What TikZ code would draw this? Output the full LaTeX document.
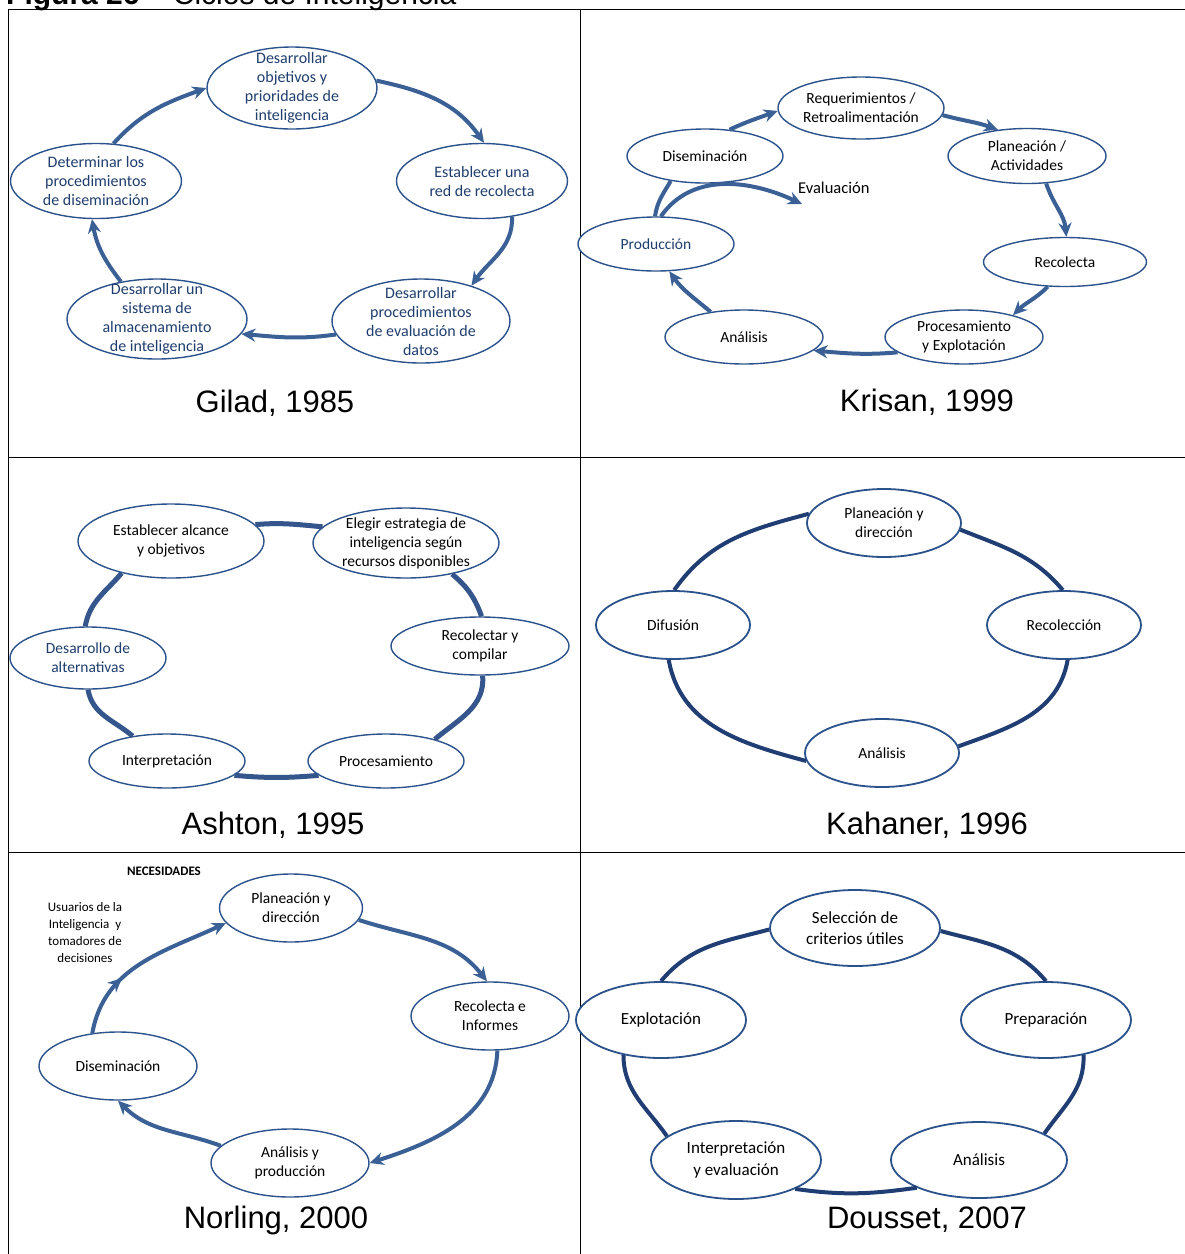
\documentclass[tikz,border=0pt]{standalone}
\usepackage{fontspec}
\setmainfont{Carlito}
\newfontfamily\arialfont{Liberation Sans}
\usetikzlibrary{
  arrows.meta,
  decorations.markings,
  shapes.geometric
}
\definecolor{cycleblue}{RGB}{44,82,140}
\definecolor{arrowblue}{RGB}{58,96,150}
\definecolor{ringblue}{RGB}{52,86,140}
\definecolor{linkblue}{RGB}{32,62,116}
\definecolor{textnavy}{RGB}{31,62,110}

\begin{document}
\begin{tikzpicture}[x=1pt,y=1pt,
  ell/.style={ellipse,draw=cycleblue,line width=1.4pt,fill=white,inner sep=0pt},
  txt/.style={align=center,inner sep=0pt,font=\fontsize{15.5}{19}\selectfont},
  gil/.style={txt,text=textnavy,font=\fontsize{16}{19}\selectfont},
  big/.style={align=center,inner sep=0pt,font=\fontsize{17}{21.5}\selectfont},
  note/.style={align=center,inner sep=0pt,font=\fontsize{13}{17}\selectfont},
  caption/.style={anchor=base,inner sep=0pt,font=\arialfont\fontsize{31}{36}\selectfont},
  flow/.style={-{Stealth[length=14pt,width=13pt]},line width=4pt,arrowblue},
  midflow/.style={flow,postaction={decorate},
    decoration={markings,mark=at position 0.35 with {\arrow{Stealth[length=14pt,width=13pt]}}}},
  link/.style={line width=4pt,arrowblue},
  ringA/.style={line width=5pt,ringblue},
  ring/.style={line width=4pt,linkblue},
  frame/.style={line width=1.6pt,black},
]
\useasboundingbox (0,0) rectangle (1185,-1254);

% ---- Table frame ----
\draw[frame] (8.5,-9.5) rectangle (1200,-1270);
\draw[frame] (580.5,-9.5) -- (580.5,-1270);
\draw[frame] (8.5,-457.5) -- (1200,-457.5);
\draw[frame] (8.5,-852.5) -- (1200,-852.5);
\node[anchor=base west,inner sep=0pt,font=\arialfont\fontsize{30}{36}\selectfont]
  (title) at (6,-4.5) {\textbf{Figura 26} – Ciclos de Inteligencia};

% ---- Gilad, 1985 ----
\node[ell,minimum width=170,minimum height=82,
  label={[gil]center:{Desarrollar\\objetivos y\\prioridades de\\inteligencia}}] (g1) at (292,-88) {};
\node[ell,minimum width=171,minimum height=75,
  label={[gil]center:{Establecer una\\red de recolecta}}] (g2) at (482,-181) {};
\node[ell,minimum width=178,minimum height=84,
  label={[gil]center:{Desarrollar\\procedimientos\\de evaluación de\\datos}}] (g3) at (421,-321) {};
\node[ell,minimum width=180,minimum height=80,
  label={[gil]center:{Desarrollar un\\sistema de\\almacenamiento\\de inteligencia}}] (g4) at (157,-319) {};
\node[ell,minimum width=171,minimum height=75,
  label={[gil]center:{Determinar los\\procedimientos\\de diseminación}}] (g5) at (96,-181) {};
\draw[flow] (g1.5) to[out=-12,in=125] (g2.87);
\draw[flow] (g2.-50) to[out=-88,in=55] (g3.35);
\draw[flow] (g3.-171) to[out=188,in=-5] (g4.-10);
\draw[flow] (g4.134) to[out=128,in=-80] (g5.-96);
\draw[flow] (g5.65) to[out=48,in=200] (g1.180);

% ---- Krisan, 1999 ----
\node[ell,minimum width=166,minimum height=62,
  label={[txt]center:{Requerimientos /\\Retroalimentación}}] (k1) at (861,-108) {};
\node[ell,minimum width=158,minimum height=55,
  label={[txt]center:{Planeación /\\Actividades}}] (k2) at (1027,-156) {};
\node[ell,minimum width=163,minimum height=49,
  label={[txt]center:{Recolecta}}] (k3) at (1065,-262) {};
\node[ell,minimum width=158,minimum height=54,
  label={[txt]center:{Procesamiento\\y Explotación}}] (k4) at (964,-337) {};
\node[ell,minimum width=158,minimum height=54,
  label={[txt]center:{Análisis}}] (k5) at (744,-337) {};
\node[ell,minimum width=156,minimum height=54,
  label={[txt,text=textnavy]center:{Producción}}] (k6) at (656,-244) {};
\node[ell,minimum width=156,minimum height=54,
  label={[txt]center:{Diseminación}}] (k7) at (705,-156) {};
\draw[flow] (k7.47) to[out=25,in=200] (k1.182);
\draw[flow] (k1.-5) to[out=-15,in=160] (k2.138);
\draw[flow] (k2.-55) to[out=-72,in=95] (k3.87);
\draw[flow] (k3.-125) to[out=-135,in=45] (k4.24);
\draw[flow] (k4.-167) to[out=185,in=-5] (k5.-11);
\draw[flow] (k5.143) to[out=140,in=-55] (k6.-64);
\draw[link] (k6.92) to[out=82,in=-120] (k7.-144);
% feedback arrow
\coordinate (evtip) at (802,-204);
\draw[flow] (k6.80) to[out=55,in=155] (evtip);
\node[anchor=west,inner sep=0pt,font=\fontsize{16.5}{20}\selectfont] (eval) at (798,-188) {Evaluación};

% ---- Ashton, 1995 ----
\node[ell,minimum width=186,minimum height=74,
  label={[txt]center:{Establecer alcance\\y objetivos}}] (a1) at (171,-541) {};
\node[ell,minimum width=186,minimum height=70,
  label={[txt]center:{Elegir estrategia de\\inteligencia según\\recursos disponibles}}] (a2) at (406,-543) {};
\node[ell,minimum width=178,minimum height=58,
  label={[txt]center:{Recolectar y\\compilar}}] (a3) at (480,-646) {};
\node[ell,minimum width=156,minimum height=54,
  label={[txt]center:{Procesamiento}}] (a4) at (386,-761) {};
\node[ell,minimum width=156,minimum height=54,
  label={[txt]center:{Interpretación}}] (a5) at (167,-761) {};
\node[ell,minimum width=156,minimum height=62,
  label={[txt,text=textnavy]center:{Desarrollo de\\alternativas}}] (a6) at (88,-658) {};
\draw[ringA] (a1.11) to[out=5,in=175] (a2.169);
\draw[ringA] (a2.-34) to[out=-40,in=110] (a3.87);
\draw[ringA] (a3.-85) to[out=-85,in=40] (a4.24);
\draw[ringA] (a4.-168) to[out=185,in=-5] (a5.-12);
\draw[ringA] (a5.144) to[out=140,in=-80] (a6.-90);
\draw[ringA] (a6.95) to[out=80,in=-130] (a1.-147);

% ---- Kahaner, 1996 ----
\node[ell,line width=1.8pt,minimum width=154,minimum height=68,
  label={[txt]center:{Planeación y\\dirección}}] (h1) at (884,-523) {};
\node[ell,line width=1.8pt,minimum width=154,minimum height=68,
  label={[txt]center:{Recolección}}] (h2) at (1064,-625) {};
\node[ell,line width=1.8pt,minimum width=154,minimum height=68,
  label={[txt]center:{Análisis}}] (h3) at (882,-753) {};
\node[ell,line width=1.8pt,minimum width=154,minimum height=68,
  label={[txt]center:{Difusión}}] (h4) at (673,-625) {};
\draw[ring] (h1.-5) to[out=-22,in=130] (h2.92);
\draw[ring] (h2.-84) to[out=-100,in=20] (h3.5);
\draw[ring] (h3.186) to[out=165,in=-80] (h4.-97);
\draw[ring] (h4.88) to[out=55,in=195] (h1.173);

% ---- Norling, 2000 ----
\node[note,font=\bfseries\fontsize{13}{17}\selectfont] (needs) at (164,-871) {NECESIDADES};
\node[note] (users) at (85,-933) {Usuarios de la\\Inteligencia\ \ y\\tomadores de\\decisiones};
\node[ell,minimum width=143,minimum height=68,
  label={[txt]center:{Planeación y\\dirección}}] (n1) at (291,-908) {};
\node[ell,minimum width=158,minimum height=68,
  label={[txt]center:{Recolecta e\\Informes}}] (n2) at (490,-1016) {};
\node[ell,minimum width=158,minimum height=68,
  label={[txt]center:{Análisis y\\producción}}] (n3) at (290,-1163) {};
\node[ell,minimum width=158,minimum height=68,
  label={[txt]center:{Diseminación}}] (n4) at (118,-1066) {};
\draw[flow] (n1.-10) to[out=-18,in=128] (n2.95);
\draw[flow] (n2.-78) to[out=-92,in=18] (n3.0);
\draw[flow] (n3.166) to[out=160,in=-45] (n4.-90);
\draw[midflow] (n4.128) to[out=80,in=205] (n1.-167);

% ---- Dousset, 2007 ----
\node[ell,line width=1.8pt,minimum width=170,minimum height=76,
  label={[big]center:{Selección de\\criterios útiles}}] (d1) at (855,-928) {};
\node[ell,line width=1.8pt,minimum width=170,minimum height=76,
  label={[big]center:{Preparación}}] (d2) at (1046,-1020) {};
\node[ell,line width=1.8pt,minimum width=176,minimum height=76,
  label={[big]center:{Análisis}}] (d3) at (979,-1160) {};
\node[ell,line width=1.8pt,minimum width=170,minimum height=78,
  label={[big]center:{Interpretación\\y evaluación}}] (d4) at (736,-1160) {};
\node[ell,line width=1.8pt,minimum width=170,minimum height=76,
  label={[big]center:{Explotación}}] (d5) at (661,-1020) {};
\draw[ring] (d1.-2) to[out=-15,in=130] (d2.90);
\draw[ring] (d2.-43) to[out=-88,in=55] (d3.22);
\draw[ring] (d3.-156) to[out=188,in=-8] (d4.-26);
\draw[ring] (d4.161) to[out=125,in=-90] (d5.-137);
\draw[ring] (d5.90) to[out=50,in=195] (d1.181);

% ---- Captions ----
\foreach \nm/\px/\py/\cap in {capG/275/412/{Gilad, 1985},capK/927/411/{Krisan, 1999},
    capA/273/834/{Ashton, 1995},capH/927/834/{Kahaner, 1996},
    capN/276/1228/{Norling, 2000},capD/927/1228/{Dousset, 2007}}{
  \node[caption] (\nm) at (\px,-\py) {\cap};
}
\end{tikzpicture}
\end{document}
